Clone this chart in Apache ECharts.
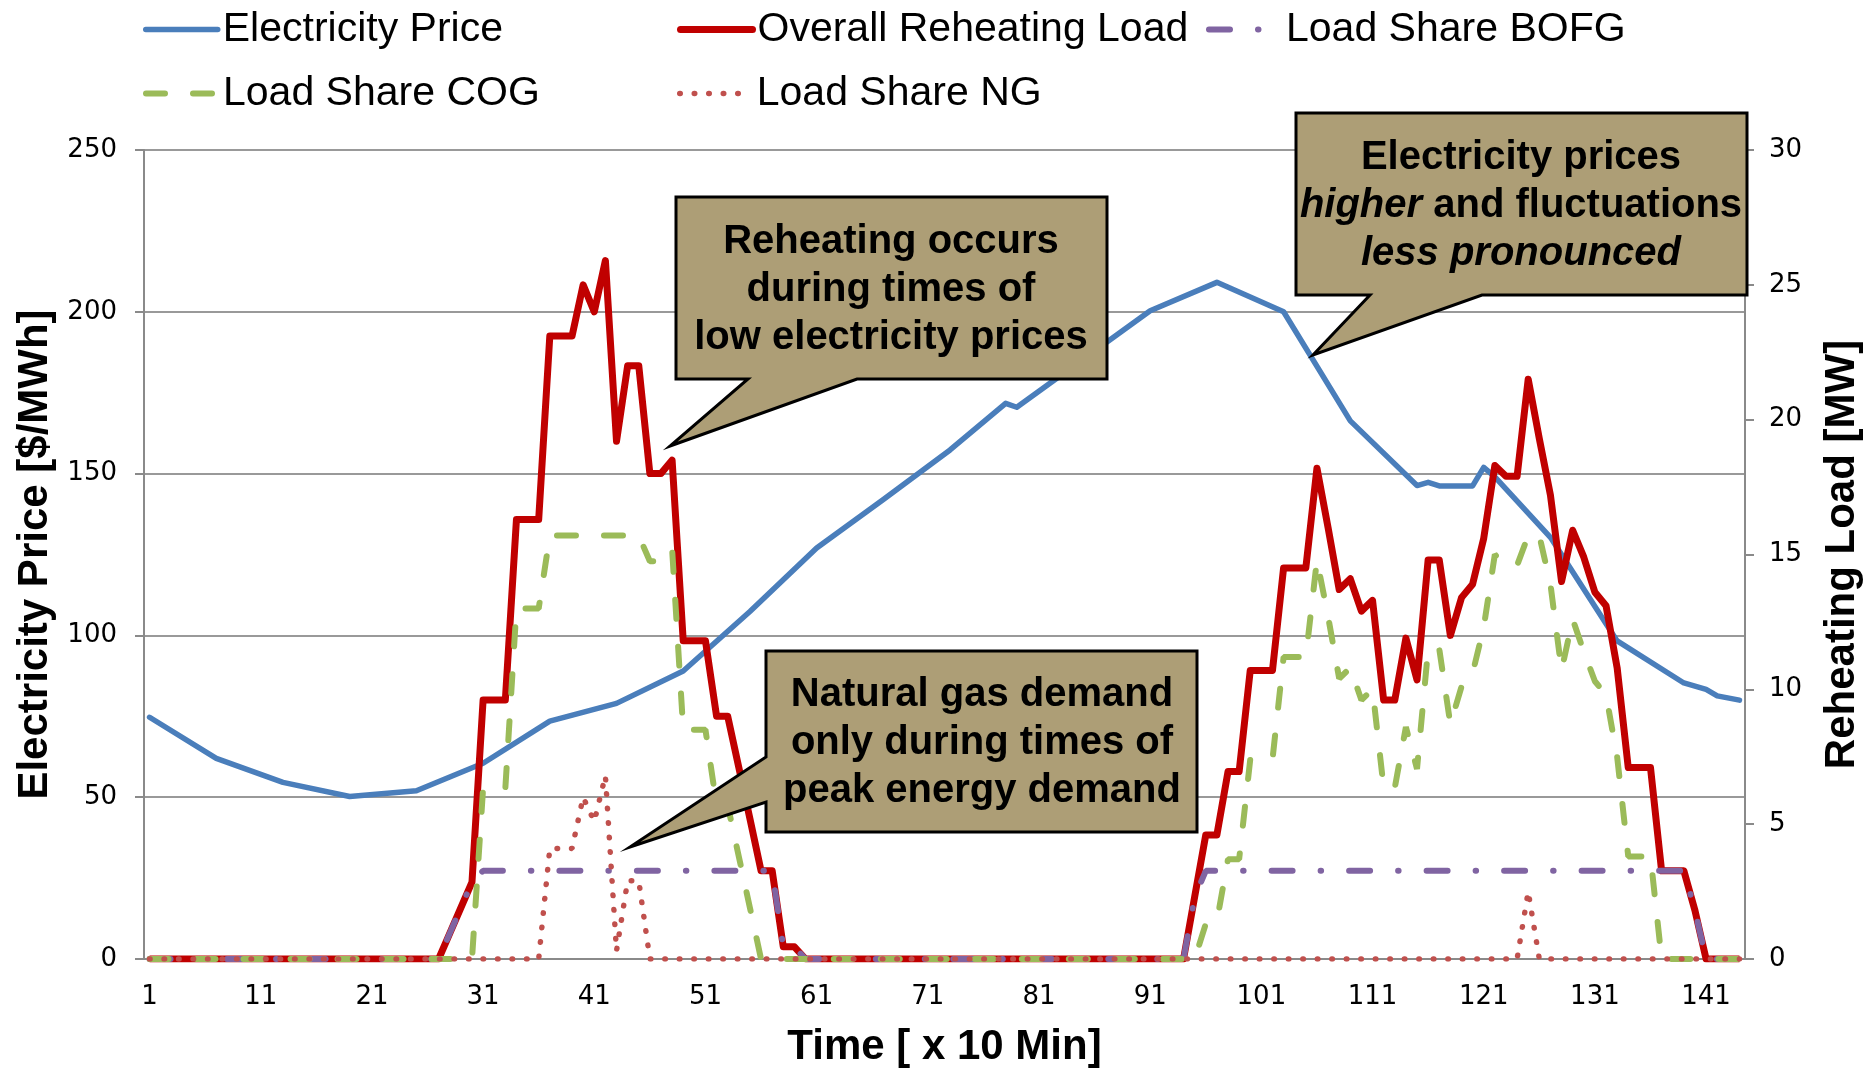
<!DOCTYPE html>
<html>
<head>
<meta charset="utf-8">
<script src="https://cdn.jsdelivr.net/npm/echarts@6/dist/echarts.min.js"></script>
<style>
  html, body { margin: 0; padding: 0; background: #fff; }
  #reheating_chart { width: 1868px; height: 1070px; }
</style>
</head>
<body>
<div id="reheating_chart"></div>
<script>
// time steps of 10 min, 1..144
var timeSteps = [];
for (var t = 1; t <= 144; t++) { timeSteps.push(String(t)); }

// electricity price, read at the corners of the line [$/MWh]
var priceTimes  = ['1', '7', '13', '19', '25', '31', '37', '43', '49', '55', '61', '67', '73', '78', '79',
                   '91', '97', '103', '109', '115', '116', '117', '120', '121', '122', '127', '133', '139',
                   '141', '142', '144'];
var priceValues = [74.7, 62.0, 54.6, 50.2, 52.0, 60.5, 73.5, 79.0, 89.0, 107.4, 127.0, 142.0, 157.3, 171.7, 170.5,
                   200.3, 209.1, 200.0, 166.3, 146.3, 147.3, 146.2, 146.2, 151.9, 149.0, 130.3, 98.3, 85.3,
                   83.3, 81.3, 80.0];

// reheating loads [MW], one value per time step
var overallLoad = [
    0, 0, 0, 0, 0, 0, 0, 0, 0, 0, 0, 0,
    0, 0, 0, 0, 0, 0, 0, 0, 0, 0, 0, 0,
    0, 0, 0, 0.95, 1.9, 2.85, 9.6, 9.6, 9.6, 16.3, 16.3, 16.3,
    23.1, 23.1, 23.1, 25.0, 24.0, 25.9, 19.2, 22.0, 22.0, 18.0, 18.0, 18.5,
    11.8, 11.8, 11.8, 9.0, 9.0, 7.1, 5.2, 3.27, 3.27, 0.45, 0.45, 0,
    0, 0, 0, 0, 0, 0, 0, 0, 0, 0, 0, 0,
    0, 0, 0, 0, 0, 0, 0, 0, 0, 0, 0, 0,
    0, 0, 0, 0, 0, 0, 0, 0, 0, 0, 2.3, 4.6,
    4.6, 6.95, 6.95, 10.7, 10.7, 10.7, 14.5, 14.5, 14.5, 18.2, 16.0, 13.7,
    14.1, 12.9, 13.3, 9.6, 9.6, 11.9, 10.35, 14.8, 14.8, 12.0, 13.4, 13.9,
    15.6, 18.3, 17.9, 17.9, 21.5, 19.3, 17.2, 14.0, 15.9, 14.9, 13.6, 13.1,
    10.8, 7.1, 7.1, 7.1, 3.27, 3.27, 3.27, 1.8, 0, 0, 0, 0
];
var shareBOFG = [
    0, 0, 0, 0, 0, 0, 0, 0, 0, 0, 0, 0,
    0, 0, 0, 0, 0, 0, 0, 0, 0, 0, 0, 0,
    0, 0, 0, 0.95, 1.9, 2.85, 3.27, 3.27, 3.27, 3.27, 3.27, 3.27,
    3.27, 3.27, 3.27, 3.27, 3.27, 3.27, 3.27, 3.27, 3.27, 3.27, 3.27, 3.27,
    3.27, 3.27, 3.27, 3.27, 3.27, 3.27, 3.27, 3.27, 3.27, 0.45, 0.45, 0,
    0, 0, 0, 0, 0, 0, 0, 0, 0, 0, 0, 0,
    0, 0, 0, 0, 0, 0, 0, 0, 0, 0, 0, 0,
    0, 0, 0, 0, 0, 0, 0, 0, 0, 0, 2.3, 3.27,
    3.27, 3.27, 3.27, 3.27, 3.27, 3.27, 3.27, 3.27, 3.27, 3.27, 3.27, 3.27,
    3.27, 3.27, 3.27, 3.27, 3.27, 3.27, 3.27, 3.27, 3.27, 3.27, 3.27, 3.27,
    3.27, 3.27, 3.27, 3.27, 3.27, 3.27, 3.27, 3.27, 3.27, 3.27, 3.27, 3.27,
    3.27, 3.27, 3.27, 3.27, 3.27, 3.27, 3.27, 1.8, 0, 0, 0, 0
];
var shareCOG = [
    0, 0, 0, 0, 0, 0, 0, 0, 0, 0, 0, 0,
    0, 0, 0, 0, 0, 0, 0, 0, 0, 0, 0, 0,
    0, 0, 0, 0, 0, 0, 6.33, 6.33, 6.33, 13.0, 13.0, 13.0,
    15.7, 15.7, 15.7, 15.7, 15.7, 15.7, 15.7, 15.7, 15.7, 14.75, 14.75, 15.2,
    8.5, 8.5, 8.5, 5.7, 5.7, 3.8, 1.9, 0, 0, 0, 0, 0,
    0, 0, 0, 0, 0, 0, 0, 0, 0, 0, 0, 0,
    0, 0, 0, 0, 0, 0, 0, 0, 0, 0, 0, 0,
    0, 0, 0, 0, 0, 0, 0, 0, 0, 0, 0, 1.3,
    1.4, 3.7, 3.7, 7.4, 7.4, 7.4, 11.2, 11.2, 11.2, 14.8, 12.7, 10.4,
    10.8, 9.6, 10.0, 6.35, 6.35, 8.6, 7.05, 11.5, 11.5, 8.7, 10.1, 10.6,
    12.3, 15.0, 14.6, 14.6, 15.7, 15.7, 13.9, 10.7, 12.6, 11.4, 10.3, 9.8,
    7.5, 3.8, 3.8, 3.8, 0, 0, 0, 0, 0, 0, 0, 0
];
var shareNG = [
    0, 0, 0, 0, 0, 0, 0, 0, 0, 0, 0, 0,
    0, 0, 0, 0, 0, 0, 0, 0, 0, 0, 0, 0,
    0, 0, 0, 0, 0, 0, 0, 0, 0, 0, 0, 0,
    4.1, 4.1, 4.1, 6.0, 5.1, 6.8, 0.3, 2.9, 2.9, 0, 0, 0,
    0, 0, 0, 0, 0, 0, 0, 0, 0, 0, 0, 0,
    0, 0, 0, 0, 0, 0, 0, 0, 0, 0, 0, 0,
    0, 0, 0, 0, 0, 0, 0, 0, 0, 0, 0, 0,
    0, 0, 0, 0, 0, 0, 0, 0, 0, 0, 0, 0,
    0, 0, 0, 0, 0, 0, 0, 0, 0, 0, 0, 0,
    0, 0, 0, 0, 0, 0, 0, 0, 0, 0, 0, 0,
    0, 0, 0, 0, 2.5, 0, 0, 0, 0, 0, 0, 0,
    0, 0, 0, 0, 0, 0, 0, 0, 0, 0, 0, 0
];

var pricePoints = priceTimes.map(function (t, i) { return [t, priceValues[i]]; });

var arial = '"Liberation Sans", Arial, sans-serif';
var tickFont = '"DejaVu Sans", Verdana, sans-serif';
var axisGray = '#8a8a8a';
var boxFill = '#ad9e76';

// line looks of the five series, shared by plot and legend
var priceLine = { color: '#4a7ebb', width: 5.5, cap: 'round', join: 'round' };
var overallLine = { color: '#c00000', width: 7, join: 'round' };
var bofgLine = { color: '#8064a2', width: 6, type: [21, 28, 0.5, 28], cap: 'round' };
var cogLine = { color: '#9bbb59', width: 6, type: [19, 28], cap: 'round' };
var ngLine = { color: '#c0504d', width: 5.5, type: [0.5, 14], cap: 'round' };

function legendAt(name, left, top, line) {
    return {
        data: [name],
        left: left,
        top: top,
        padding: 0,
        itemWidth: 72,
        itemHeight: 14,
        selectedMode: false,
        itemStyle: { opacity: 0 },
        lineStyle: { width: line.width, type: line.type || 'solid', cap: 'round' },
        textStyle: { fontFamily: arial, fontSize: 41, color: '#000' }
    };
}

function callout(points) {
    return {
        type: 'polygon',
        z: 100,
        shape: { points: points },
        style: { fill: boxFill, stroke: '#000', lineWidth: 3 }
    };
}

function calloutText(x, y, text) {
    return {
        type: 'text',
        z: 101,
        x: x,
        y: y,
        style: {
            text: text,
            align: 'center',
            verticalAlign: 'middle',
            lineHeight: 48,
            rich: {
                b: { fontFamily: arial, fontSize: 40, fontWeight: 'bold', fill: '#000', lineHeight: 48 },
                bi: { fontFamily: arial, fontSize: 40, fontWeight: 'bold', fontStyle: 'italic', fill: '#000', lineHeight: 48 }
            }
        }
    };
}

var option = {
    animation: false,
    color: ['#4a7ebb', '#c00000', '#8064a2', '#9bbb59', '#c0504d'],
    legend: [
        legendAt('Electricity Price', 143, 9, priceLine),
        legendAt('Overall Reheating Load', 677, 9, overallLine),
        legendAt('Load Share BOFG', 1206, 9, bofgLine),
        legendAt('Load Share COG', 143, 73, cogLine),
        legendAt('Load Share NG', 677, 73, ngLine)
    ],
    grid: { left: 144, right: 123, top: 150, bottom: 111, outerBoundsMode: 'none', containLabel: false },
    xAxis: {
        type: 'category',
        data: timeSteps,
        boundaryGap: true,
        name: 'Time [ x 10 Min]',
        nameLocation: 'middle',
        nameGap: 67,
        nameTextStyle: { fontFamily: arial, fontSize: 42, fontWeight: 'bold', color: '#000' },
        axisLine: { lineStyle: { color: axisGray, width: 2 } },
        axisTick: { interval: 0, length: 8, lineStyle: { color: axisGray, width: 1.5 } },
        axisLabel: { interval: 9, margin: 25, fontFamily: tickFont, fontSize: 26, color: '#000' },
        splitLine: { show: false }
    },
    yAxis: [
        {
            type: 'value',
            min: 0,
            max: 250,
            interval: 50,
            name: 'Electricity Price [$/MWh]',
            nameLocation: 'middle',
            nameGap: 88,
            nameRotate: 90,
            nameTextStyle: { fontFamily: arial, fontSize: 42, fontWeight: 'bold', color: '#000' },
            axisLine: { show: true, lineStyle: { color: axisGray, width: 2 } },
            axisTick: { show: true, length: 9, lineStyle: { color: axisGray, width: 2 } },
            axisLabel: { margin: 27, fontFamily: tickFont, fontSize: 26, color: '#000' },
            splitLine: { lineStyle: { color: '#999', width: 2 } }
        },
        {
            type: 'value',
            min: 0,
            max: 30,
            interval: 5,
            name: 'Reheating Load [MW]',
            nameLocation: 'middle',
            nameGap: 76,
            nameRotate: 90,
            nameTextStyle: { fontFamily: arial, fontSize: 42, fontWeight: 'bold', color: '#000' },
            axisLine: { show: true, lineStyle: { color: axisGray, width: 2 } },
            axisTick: { show: true, length: 9, lineStyle: { color: axisGray, width: 2 } },
            axisLabel: { margin: 24, fontFamily: tickFont, fontSize: 26, color: '#000' },
            splitLine: { show: false }
        }
    ],
    series: [
        {
            name: 'Electricity Price',
            type: 'line',
            yAxisIndex: 0,
            symbol: 'none',
            data: pricePoints,
            lineStyle: priceLine
        },
        {
            name: 'Overall Reheating Load',
            type: 'line',
            yAxisIndex: 1,
            symbol: 'none',
            data: overallLoad,
            lineStyle: overallLine
        },
        {
            name: 'Load Share BOFG',
            type: 'line',
            yAxisIndex: 1,
            symbol: 'none',
            data: shareBOFG,
            lineStyle: bofgLine
        },
        {
            name: 'Load Share COG',
            type: 'line',
            yAxisIndex: 1,
            symbol: 'none',
            data: shareCOG,
            lineStyle: cogLine
        },
        {
            name: 'Load Share NG',
            type: 'line',
            yAxisIndex: 1,
            symbol: 'none',
            data: shareNG,
            lineStyle: ngLine
        }
    ],
    graphic: [
        callout([[676, 197], [1107, 197], [1107, 379], [857, 379], [670, 446], [748, 379], [676, 379]]),
        calloutText(891, 290, '{b|Reheating occurs}\n{b|during times of}\n{b|low electricity prices}'),
        callout([[766, 651], [1197, 651], [1197, 832], [766, 832], [766, 802], [630, 847], [766, 757]]),
        calloutText(982, 743, '{b|Natural gas demand}\n{b|only during times of}\n{b|peak energy demand}'),
        callout([[1296, 113], [1747, 113], [1747, 295], [1482, 295], [1313, 355], [1370, 295], [1296, 295]]),
        calloutText(1521, 206, '{b|Electricity prices}\n{bi|higher}{b| and fluctuations}\n{bi|less pronounced}')
    ]
};

var myChart = echarts.init(document.getElementById('reheating_chart'));
myChart.setOption(option);
</script>
</body>
</html>
